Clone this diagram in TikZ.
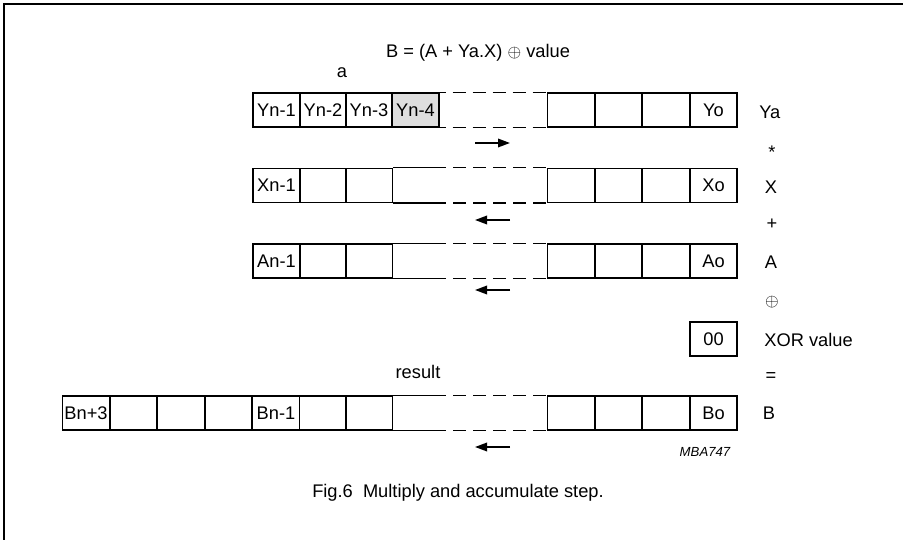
\documentclass[tikz,border=0pt]{standalone}
\usepackage{fontspec}
\setmainfont{Liberation Sans}
\usetikzlibrary{positioning}
\usetikzlibrary{arrows.meta}

\begin{document}
\begin{tikzpicture}[x=0.02cm, y=-0.02cm,
		c/.style = {rectangle, draw=black, line width=0.6pt, minimum width=0.94cm, minimum height=0.68cm, inner sep=0pt, font=\fontsize{10.4}{12}\selectfont},
		l/.style = {inner sep=0pt, font=\fontsize{10.4}{12}\selectfont},
		s/.style = {line width=0.6pt},
		d/.style = {line width=0.6pt, dash pattern=on 7.4pt off 4pt, dash phase=7.4pt},
		r/.style = {-{Triangle[length=2.4mm, width=1.7mm]}, line width=1pt}
		]
		\useasboundingbox (0,0) rectangle (903,540);
		
		%Frame
		\draw[line width=1.1pt] (4,540) -- (4,4) -- (903,4);
		
		%Nodes
		\node[l]	(f)	at	(478,53)	{B = (A + Ya.X) $\oplus$ value};
		\node[l]	(lbla)	at	(342,73)	{a};
		\node[l]	(res)	at	(418,372)	{result};
		
		% Ya row
		\node[c]	(y1)	at	(276.5,110)	{Yn-1};
		\node[c]	(y2)	at	(323,110)	{Yn-2};
		\node[c]	(y3)	at	(369,110)	{Yn-3};
		\node[c, fill=black!13]	(y4)	at	(415.5,110)	{Yn-4};
		\node[c]	(y5)	at	(571,110)	{};
		\node[c]	(y6)	at	(618.5,110)	{};
		\node[c]	(y7)	at	(666,110)	{};
		\node[c]	(y8)	at	(713.5,110)	{Yo};
		
		% X row
		\node[c]	(x1)	at	(276.5,185.5)	{Xn-1};
		\node[c]	(x2)	at	(323,185.5)	{};
		\node[c]	(x3)	at	(369,185.5)	{};
		\node[c]	(x5)	at	(571,185.5)	{};
		\node[c]	(x6)	at	(618.5,185.5)	{};
		\node[c]	(x7)	at	(666,185.5)	{};
		\node[c]	(x8)	at	(713.5,185.5)	{Xo};
		
		% A row
		\node[c]	(a1)	at	(276.5,261)	{An-1};
		\node[c]	(a2)	at	(323,261)	{};
		\node[c]	(a3)	at	(369,261)	{};
		\node[c]	(a5)	at	(571,261)	{};
		\node[c]	(a6)	at	(618.5,261)	{};
		\node[c]	(a7)	at	(666,261)	{};
		\node[c]	(a8)	at	(713.5,261)	{Ao};
		
		% XOR value
		\node[c]	(v)	at	(713.5,339)	{00};
		
		% B row
		\node[c]	(b1)	at	(86,413)	{Bn+3};
		\node[c]	(b2)	at	(133.5,413)	{};
		\node[c]	(b3)	at	(181,413)	{};
		\node[c]	(b4)	at	(228.5,413)	{};
		\node[c]	(b5)	at	(276,413)	{Bn-1};
		\node[c]	(b6)	at	(323,413)	{};
		\node[c]	(b7)	at	(369,413)	{};
		\node[c]	(b8)	at	(571,413)	{};
		\node[c]	(b9)	at	(618.5,413)	{};
		\node[c]	(b10)	at	(666,413)	{};
		\node[c]	(b11)	at	(713.5,413)	{Bo};
		
		% right hand labels
		\node[l, anchor=west]	(ly)	at	(759,112)	{Ya};
		\node[l]	(lm)	at	(772,152)	{*};
		\node[l]	(lx)	at	(771,187)	{X};
		\node[l]	(lp)	at	(772,224)	{+};
		\node[l]	(la)	at	(771,262)	{A};
		\node[l]	(lo)	at	(772,302)	{$\oplus$};
		\node[l, anchor=west]	(lv)	at	(764,340)	{XOR value};
		\node[l]	(le)	at	(771,377)	{=};
		\node[l]	(lb)	at	(769,413)	{B};
		
		\node[inner sep=0pt, font=\fontsize{7.5}{9}\selectfont\itshape]	(id)	at	(705,452)	{MBA747};
		\node[l]	(cap)	at	(458,493)	{Fig.6\ \ Multiply and accumulate step.};
		
		% shift arrows
		\coordinate (r1a) at (475,143);	\coordinate (r1b) at (510,143);
		\coordinate (r2a) at (510,220);	\coordinate (r2b) at (475,220);
		\coordinate (r3a) at (510,290);	\coordinate (r3b) at (475,290);
		\coordinate (r4a) at (510,447);	\coordinate (r4b) at (475,447);
		
		%Lines
		\draw[s]	(y4.north east)	--	++(6,0)	coordinate	(yt);
		\draw[s]	(y4.south east)	--	++(6,0)	coordinate	(yb);
		\draw[d]	(yt)	--	(y5.north west);
		\draw[d]	(yb)	--	(y5.south west);
		
		\draw[s]	(x3.north east)	--	++(53,0)	coordinate	(xt);
		\draw[s]	(x3.south east)	--	++(53,0)	coordinate	(xb);
		\draw[d]	(xt)	--	(x5.north west);
		\draw[d]	(xb)	--	(x5.south west);
		
		\draw[s]	(a3.north east)	--	++(53,0)	coordinate	(at);
		\draw[s]	(a3.south east)	--	++(53,0)	coordinate	(ab);
		\draw[d]	(at)	--	(a5.north west);
		\draw[d]	(ab)	--	(a5.south west);
		
		\draw[s]	(b7.north east)	--	++(53,0)	coordinate	(bt);
		\draw[s]	(b7.south east)	--	++(53,0)	coordinate	(bb);
		\draw[d]	(bt)	--	(b8.north west);
		\draw[d]	(bb)	--	(b8.south west);
		
		\draw[r]	(r1a)	--	(r1b);
		\draw[r]	(r2a)	--	(r2b);
		\draw[r]	(r3a)	--	(r3b);
		\draw[r]	(r4a)	--	(r4b);
	\end{tikzpicture}
\end{document}
